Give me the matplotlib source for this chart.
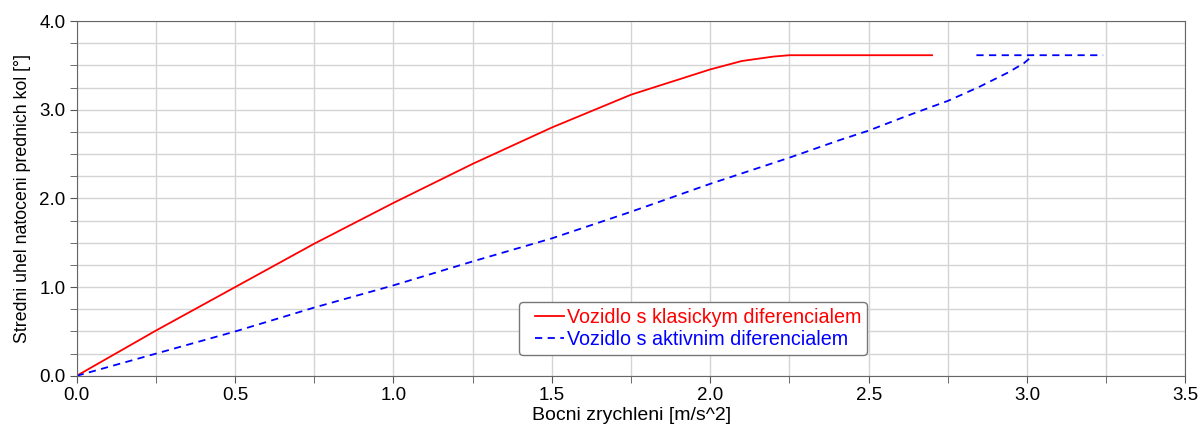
import numpy as np
import matplotlib.pyplot as plt
from matplotlib.lines import Line2D
from matplotlib.legend_handler import HandlerLine2D
from matplotlib.ticker import MultipleLocator, FormatStrFormatter

plt.rcParams['font.family'] = ['Liberation Sans', 'DejaVu Sans']

# vozidlo s klasickym diferencialem
red_x = [0, 0.25, 0.5, 0.75, 1.0, 1.25, 1.5, 1.75, 2.0, 2.1, 2.2, 2.25, 2.7]
red_y = [0, 0.51, 1.0, 1.49, 1.95, 2.39, 2.80, 3.17, 3.455, 3.55, 3.60, 3.615, 3.615]

# vozidlo s aktivnim diferencialem (krivka + vodorovny usek)
blue_x = [0, 0.25, 0.5, 0.75, 1.0, 1.25, 1.5, 1.75, 2.0, 2.25, 2.41, 2.5, 2.62, 2.75, 2.85, 2.94, 2.99, 3.02,
          np.nan, 2.84, 3.24]
blue_y = [0, 0.25, 0.5, 0.77, 1.02, 1.29, 1.55, 1.85, 2.165, 2.46, 2.66, 2.765, 2.93, 3.10, 3.26, 3.42, 3.525, 3.615,
          np.nan, 3.615, 3.615]

labels = ['Vozidlo s klasickym diferencialem', 'Vozidlo s aktivnim diferencialem']

fig = plt.figure(figsize=(12, 4.3), dpi=100)
ax = fig.add_axes([0.0639, 0.126, 0.924, 0.825])

ax.plot(red_x, red_y, color='red', lw=1.3, label=labels[0])
ax.plot(blue_x, blue_y, color='blue', lw=1.3, ls=(0, (4, 3)), label=labels[1])

ax.set_xlim(0, 3.5)
ax.set_ylim(0, 4.0)
ax.xaxis.set_major_locator(MultipleLocator(0.5))
ax.xaxis.set_minor_locator(MultipleLocator(0.25))
ax.yaxis.set_major_locator(MultipleLocator(1.0))
ax.yaxis.set_minor_locator(MultipleLocator(0.25))
ax.xaxis.set_major_formatter(FormatStrFormatter('%.1f'))
ax.yaxis.set_major_formatter(FormatStrFormatter('%.1f'))

ax.grid(True, which='both', color='#d4d4d4', lw=1.0)
ax.set_axisbelow(True)
ax.tick_params(which='both', direction='out', length=5, color='#555555', labelsize=13.5, pad=3)
for s in ax.spines.values():
    s.set_color('#666666')

ax.set_xlabel('Bocni zrychleni [m/s^2]', fontsize=14, labelpad=2)
ax.set_ylabel('Stredni uhel natoceni prednich kol [°]', fontsize=12.8, labelpad=6)

leg = ax.legend(loc='lower left', bbox_to_anchor=(0.3987, 0.059), borderaxespad=0, fontsize=14.2,
                handlelength=2.0, handletextpad=0.15, borderpad=0.3, labelspacing=0.15,
                framealpha=1, edgecolor='#777777', fancybox=True,
                handler_map={Line2D: HandlerLine2D(xpad=0.5)})
for txt, c in zip(leg.get_texts(), ['red', 'blue']):
    txt.set_color(c)

plt.savefig('out.png', dpi=100)
